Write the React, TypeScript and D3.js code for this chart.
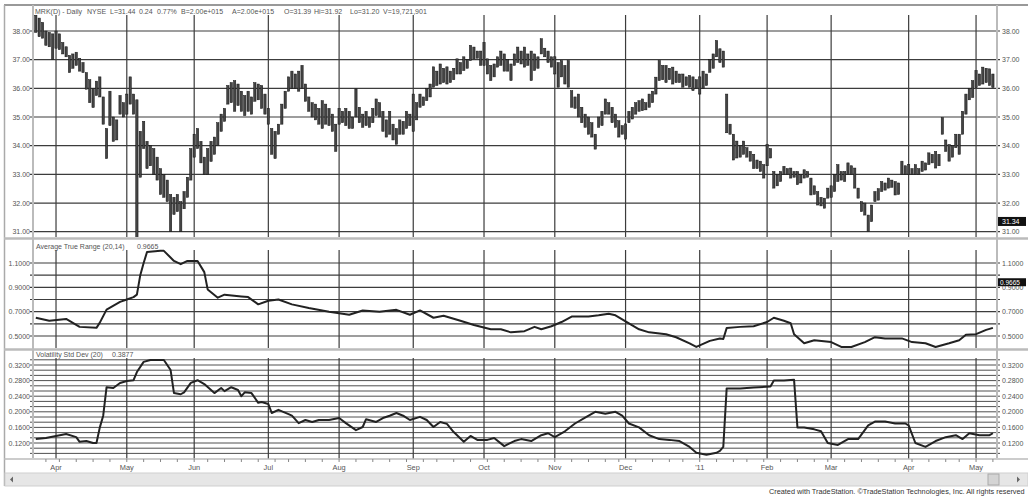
import React from "react";
import * as d3 from "d3";

const holidays = ["2010-04-02","2010-05-31","2010-07-05","2010-09-06","2010-11-25","2010-12-24","2011-01-17","2011-02-21","2011-04-22"];
const firstDay = [2010, 2, 24];
const lastDay = [2011, 4, 9];

const highs = [
38.55,38.45,38.3,38.0,37.95,37.9,38.0,37.9,37.6,37.45,
37.15,37.2,37.26,37.05,36.9,36.55,36.3,36.0,36.25,36.4,
35.7,34.6,35.9,35.0,34.9,35.75,35.5,35.8,36.4,35.8,
35.6,34.5,34.85,34.15,34.0,33.9,33.6,33.2,33.0,32.8,
32.3,32.2,32.3,32.05,32.4,32.9,33.9,34.4,34.6,34.15,
33.6,33.9,34.15,34.3,34.8,35.1,35.3,36.1,36.2,36.27,
36.15,35.9,35.75,35.9,35.7,36.2,36.15,36.1,35.8,35.3,
34.6,34.5,34.75,35.45,35.9,36.4,36.6,36.5,36.6,36.8,
36.15,35.7,35.5,35.45,35.3,35.57,35.45,35.3,35.1,34.75,
35.3,35.2,35.3,35.2,35.0,35.98,35.34,35.1,35.2,35.0,
35.3,35.63,35.5,35.2,34.9,35.2,34.75,34.6,34.9,34.85,
35.2,35.1,35.8,35.5,35.8,35.7,36.0,36.15,36.75,36.6,
36.85,36.7,36.75,36.6,36.7,37.03,36.9,37.1,37.0,37.5,
37.44,37.3,37.3,37.6,37.03,36.8,36.85,37.1,37.3,37.2,
37.0,36.85,37.2,37.44,37.3,37.44,37.2,37.3,37.2,37.1,
37.73,37.4,37.3,37.1,37.1,36.9,36.97,36.8,36.97,35.92,
35.7,35.8,35.34,35.1,35.0,34.8,34.4,35.0,35.2,35.63,
35.5,35.34,35.1,34.87,34.7,34.76,35.2,35.34,35.5,35.57,
35.63,35.5,35.8,35.9,36.39,36.97,36.8,36.8,36.7,36.74,
36.6,36.5,36.5,36.4,36.45,36.4,36.3,36.4,36.6,36.5,
37.0,37.2,37.67,37.38,37.3,35.8,34.75,34.4,34.16,34.0,
34.16,33.93,33.8,33.7,33.5,33.46,33.34,34.04,33.9,33.1,
33.0,33.1,33.28,33.2,33.22,33.1,33.1,33.0,33.16,33.1,
32.87,32.6,32.4,32.2,32.17,32.52,32.6,32.99,33.34,33.1,
33.1,33.4,33.3,33.22,32.52,32.05,32.0,31.58,31.93,32.4,
32.5,32.75,32.7,32.87,32.8,32.75,32.7,33.46,33.3,33.34,
33.2,33.34,33.2,33.46,33.4,33.75,33.7,33.8,33.7,34.98,
34.2,34.04,34.0,34.4,34.4,35.2,35.8,36.0,36.27,36.62,
36.5,36.74,36.7,36.68,36.5
];

const lows = [
37.95,37.8,37.75,37.5,37.45,37.0,37.4,37.35,37.2,37.1,
36.55,36.7,36.8,36.6,36.55,35.97,35.5,35.33,35.75,35.7,
34.75,33.55,34.7,34.15,34.2,35.1,35.0,35.1,35.45,35.1,
29.5,32.9,33.9,33.2,33.3,33.0,32.8,32.3,32.2,32.05,
31.0,31.6,31.7,31.0,31.8,32.2,32.8,33.6,33.9,33.4,
33.0,33.0,33.45,33.7,34.0,34.5,34.85,35.45,35.5,35.2,
35.4,35.2,35.05,35.2,35.1,35.55,35.6,35.3,35.1,34.75,
33.7,33.55,34.4,34.75,35.3,35.9,36.0,36.0,35.9,36.0,
35.55,35.2,35.0,34.9,34.75,34.6,34.75,34.7,34.5,33.8,
34.75,34.8,34.7,34.6,34.6,35.0,34.8,34.64,34.7,34.64,
34.8,35.05,35.0,34.5,34.3,34.4,34.2,34.05,34.4,34.4,
34.6,34.7,34.5,34.9,35.34,35.4,35.57,35.7,36.04,36.1,
36.15,36.2,36.15,36.2,36.3,36.5,36.5,36.62,36.7,36.97,
37.03,37.05,36.8,36.8,36.5,36.27,36.4,36.74,36.8,36.6,
36.6,36.27,36.8,36.9,36.85,36.74,36.8,36.27,36.62,36.7,
37.2,37.1,36.9,36.74,36.5,36.04,36.4,36.15,36.04,35.34,
35.3,35.0,34.8,34.64,34.4,34.3,33.88,34.64,34.7,35.1,
35.1,34.8,34.64,34.3,34.4,34.23,34.8,34.93,35.1,35.2,
35.22,35.25,35.34,35.5,35.8,36.27,36.3,36.2,36.3,36.15,
36.2,36.2,36.04,36.1,36.04,35.92,36.0,35.8,36.0,36.1,
36.56,36.7,37.1,36.9,36.74,34.45,34.4,33.5,33.57,33.6,
33.7,33.6,33.46,33.2,33.2,33.1,32.87,33.3,33.57,32.52,
32.6,32.75,32.99,33.0,32.87,32.9,32.64,32.7,32.87,32.9,
32.28,32.3,31.93,31.9,31.82,32.17,32.2,32.4,32.75,32.8,
32.75,32.99,33.0,32.52,32.17,31.7,31.58,31.0,31.35,32.05,
32.1,32.4,32.45,32.52,32.55,32.28,32.3,32.99,33.0,32.99,
33.0,32.99,33.0,33.1,33.15,33.34,33.4,33.22,33.3,34.4,
33.8,33.46,33.6,33.93,33.7,34.4,35.1,35.6,35.68,36.03,
36.1,36.15,36.2,36.1,36.03
];

const atrIdx = [0,4,9,13,18,19,21,25,27,29,30,31,32,33,37,38,41,43,45,48,50,51,54,56,61,63,66,69,72,76,81,87,93,97,102,107,111,114,118,121,126,130,135,138,141,145,148,150,153,156,159,162,164,167,170,172,175,179,182,187,190,194,196,200,203,204,205,209,213,217,219,222,224,225,228,231,236,239,242,246,249,252,257,260,264,267,271,274,276,279,282,284];
const atrVal = [0.65,0.625,0.64,0.575,0.567,0.61,0.717,0.78,0.8,0.82,0.84,1.0,1.1,1.19,1.2,1.2,1.117,1.09,1.117,1.117,1.025,0.883,0.815,0.84,0.825,0.82,0.76,0.79,0.8,0.76,0.73,0.7,0.675,0.71,0.70,0.715,0.675,0.71,0.65,0.667,0.625,0.59,0.555,0.555,0.53,0.54,0.575,0.555,0.58,0.615,0.66,0.66,0.66,0.67,0.683,0.67,0.62,0.555,0.53,0.515,0.49,0.44,0.41,0.46,0.48,0.475,0.565,0.575,0.58,0.615,0.65,0.625,0.605,0.515,0.44,0.465,0.45,0.41,0.41,0.45,0.49,0.48,0.48,0.45,0.44,0.41,0.44,0.465,0.51,0.515,0.55,0.567];

const volIdx = [0,3,6,9,12,13,15,17,18,19,20,21,23,25,27,29,30,32,34,38,40,41,43,44,46,48,50,53,55,56,58,60,61,62,64,66,67,69,70,72,75,76,78,80,82,84,87,90,92,95,97,98,101,103,105,107,109,111,114,116,118,120,122,124,127,129,131,134,136,139,142,144,147,150,152,154,157,160,163,166,169,172,174,176,179,182,185,188,191,194,196,199,202,203,204,205,209,213,218,219,222,225,226,228,231,233,235,238,241,244,247,249,252,255,258,259,261,264,267,270,273,275,277,280,283,284];
const volVal = [0.130,0.133,0.138,0.143,0.135,0.123,0.125,0.12,0.12,0.16,0.19,0.263,0.261,0.274,0.279,0.281,0.302,0.328,0.333,0.333,0.307,0.248,0.245,0.25,0.274,0.281,0.271,0.248,0.261,0.253,0.263,0.256,0.24,0.25,0.248,0.223,0.225,0.22,0.197,0.205,0.194,0.19,0.171,0.179,0.174,0.179,0.179,0.184,0.171,0.153,0.161,0.181,0.174,0.184,0.19,0.197,0.19,0.179,0.187,0.179,0.161,0.174,0.169,0.148,0.123,0.138,0.128,0.128,0.133,0.112,0.125,0.13,0.125,0.14,0.145,0.135,0.15,0.17,0.185,0.2,0.195,0.2,0.19,0.17,0.16,0.14,0.13,0.128,0.125,0.11,0.095,0.09,0.095,0.1,0.11,0.26,0.26,0.262,0.265,0.28,0.28,0.282,0.16,0.16,0.155,0.15,0.12,0.115,0.13,0.13,0.165,0.175,0.175,0.17,0.17,0.165,0.12,0.11,0.125,0.135,0.14,0.13,0.145,0.14,0.14,0.145];

const priceTicks = [38, 37, 36, 35, 34, 33, 32, 31];
const atrGrid = [1.1, 1.0, 0.9, 0.8, 0.7, 0.6, 0.5];
const atrLabels = [1.1, 0.9, 0.7, 0.5];
const volLabels = [0.32, 0.28, 0.24, 0.2, 0.16, 0.12];
const volGridSteps = d3.range(-2, 17);
const monthNames = ["Apr","May","Jun","Jul","Aug","Sep","Oct","Nov","Dec","'11","Feb","Mar","Apr","May"];

const titleParts: [string, number][] = [
  ["MRK(D) - Daily", 35], ["NYSE", 87], ["L=31.44", 110], ["0.24", 139], ["0.77%", 157],
  ["B=2.00e+015", 181], ["A=2.00e+015", 232], ["O=31.39", 284], ["Hi=31.92", 314],
  ["Lo=31.20", 350], ["V=19,721,901", 383],
];
const lastPrice = 31.34;
const atrTitle = "Average True Range (20,14)";
const atrLast = 0.9665;
const volTitle = "Volatility Std Dev (20)";
const volLast = "0.3877";
const footer = "Created with TradeStation. ©TradeStation Technologies, Inc. All rights reserved";

function buildDays(): Date[] {
  const fmt = d3.timeFormat("%Y-%m-%d");
  const hol = new Set(holidays);
  const out: Date[] = [];
  const d = new Date(firstDay[0], firstDay[1], firstDay[2]);
  const end = new Date(lastDay[0], lastDay[1], lastDay[2]);
  while (d <= end) {
    const dow = d.getDay();
    if (dow !== 0 && dow !== 6 && !hol.has(fmt(d))) out.push(new Date(d));
    d.setDate(d.getDate() + 1);
  }
  return out;
}

const FONT = "'Liberation Sans', Arial, Helvetica, sans-serif";
const TXT = "#555";
const GRID = "#3c3c3c";
const FS = 7;

export default function App() {
  const days = buildDays();
  const N = highs.length;
  const plotL = 33, plotR = 997;
  const x = d3.scaleLinear().domain([0, N - 1]).range([35.8, 992.9]);
  const yP = d3.scaleLinear().domain([31, 38]).range([231.7, 31]);
  const yA = d3.scaleLinear().domain([0.5, 1.1]).range([336, 263]);
  const yV = d3.scaleLinear().domain([0.12, 0.32]).range([443, 365]);

  const monthIdx: number[] = [];
  const weekIdx: number[] = [];
  days.forEach((d, i) => {
    if (i === 0) return;
    if (d.getMonth() !== days[i - 1].getMonth()) monthIdx.push(i);
    if (d.getDay() < days[i - 1].getDay()) weekIdx.push(i);
  });

  const atrLine = d3.line<number>().x((i) => x(atrIdx[i])).y((i) => yA(atrVal[i]))(d3.range(atrIdx.length)) || "";
  const volLine = d3.line<number>().x((i) => x(volIdx[i])).y((i) => yV(volVal[i]))(d3.range(volIdx.length)) || "";
  const volGrid = volGridSteps.map((k) => 0.12 + (k * 0.04) / 3);

  const panels = { p: [6, 237], a: [240, 348], v: [351, 458] };

  return (
    <div style={{ position: "fixed", left: 0, top: 0 }}>
      <svg width={1028} height={496} style={{ display: "block", background: "#fff" }} fontFamily={FONT}>
        <defs>
          <clipPath id="cp"><rect x={plotL} y={15} width={plotR - plotL} height={panels.p[1] - 15} /></clipPath>
          <clipPath id="ca"><rect x={plotL} y={panels.a[0]} width={plotR - plotL} height={panels.a[1] - panels.a[0]} /></clipPath>
          <clipPath id="cv"><rect x={plotL} y={panels.v[0]} width={plotR - plotL} height={panels.v[1] - panels.v[0]} /></clipPath>
        </defs>
        <rect x={0} y={0} width={1028} height={496} fill="#fff" />

        {monthIdx.map((i) => (
          <g key={"m" + i}>
            <line x1={x(i)} x2={x(i)} y1={15} y2={panels.p[1]} stroke={GRID} strokeWidth={1.2} />
            <line x1={x(i)} x2={x(i)} y1={250} y2={panels.a[1]} stroke={GRID} strokeWidth={1.2} />
            <line x1={x(i)} x2={x(i)} y1={358} y2={panels.v[1] + 1} stroke={GRID} strokeWidth={1.2} />
          </g>
        ))}

        {priceTicks.map((v) => (
          <line key={"pg" + v} x1={plotL - 3} x2={plotR + 3} y1={yP(v)} y2={yP(v)} stroke={GRID} strokeWidth={1.2} />
        ))}
        {atrGrid.map((v) => (
          <line key={"ag" + v} x1={plotL - 3} x2={plotR + 3} y1={yA(v)} y2={yA(v)} stroke={GRID} strokeWidth={1.1} />
        ))}
        {volGrid.map((v, k) => (
          <line key={"vg" + k} x1={plotL - 3} x2={plotR + 3} y1={yV(v)} y2={yV(v)} stroke={GRID} strokeWidth={0.9} />
        ))}

        <g clipPath="url(#cp)">
          {highs.map((h, i) => (
            <rect key={i} x={x(i) - 1.15} width={2.3} y={yP(h)} height={Math.max(1, yP(lows[i]) - yP(h))}
              fill="#444" stroke="#111" strokeWidth={0.5} />
          ))}
        </g>

        <g clipPath="url(#ca)">
          <path d={atrLine} fill="none" stroke="#222" strokeWidth={2} strokeLinejoin="round" />
        </g>
        <g clipPath="url(#cv)">
          <path d={volLine} fill="none" stroke="#222" strokeWidth={2} strokeLinejoin="round" />
        </g>

        <line x1={4} x2={1028} y1={5} y2={5} stroke="#999" strokeWidth={2} />
        <line x1={4.5} x2={4.5} y1={5} y2={486} stroke="#aaa" strokeWidth={1.5} />
        <line x1={plotL} x2={plotL} y1={5} y2={panels.v[1]} stroke="#bbb" strokeWidth={2} />
        <line x1={plotR} x2={plotR} y1={5} y2={panels.v[1]} stroke="#bbb" strokeWidth={2} />
        <line x1={4} x2={1028} y1={238.5} y2={238.5} stroke="#bbb" strokeWidth={2.5} />
        <line x1={4} x2={1028} y1={349.5} y2={349.5} stroke="#bbb" strokeWidth={2.5} />
        <line x1={4} x2={1028} y1={panels.v[1] + 1} y2={panels.v[1] + 1} stroke="#bbb" strokeWidth={1.5} />

        {titleParts.map(([t, px]) => (
          <text key={t + px} x={px} y={13.5} fontSize={FS} fill={TXT}>{t}</text>
        ))}
        <text fontSize={FS} fill={TXT} x={36} y={249}>{atrTitle}</text>
        <text fontSize={FS} fill={TXT} x={137} y={249}>{atrLast.toFixed(4)}</text>
        <text fontSize={FS} fill={TXT} x={36} y={356.5}>{volTitle}</text>
        <text fontSize={FS} fill={TXT} x={112} y={356.5}>{volLast}</text>

        {priceTicks.map((v) => (
          <g key={"pl" + v} fontSize={FS} fill={TXT}>
            <text x={30} y={yP(v) + 2.5} textAnchor="end">{v.toFixed(2)}</text>
            <text x={1002} y={yP(v) + 2.5}>{v.toFixed(2)}</text>
          </g>
        ))}
        {atrLabels.map((v) => (
          <g key={"al" + v} fontSize={FS} fill={TXT}>
            <text x={30} y={yA(v) + 2.5} textAnchor="end">{v.toFixed(4)}</text>
            <text x={1002} y={yA(v) + 2.5}>{v.toFixed(4)}</text>
          </g>
        ))}
        {volLabels.map((v) => (
          <g key={"vl" + v} fontSize={FS} fill={TXT}>
            <text x={30} y={yV(v) + 2.5} textAnchor="end">{v.toFixed(4)}</text>
            <text x={1002} y={yV(v) + 2.5}>{v.toFixed(4)}</text>
          </g>
        ))}

        <rect x={998} y={yP(lastPrice) - 5} width={28} height={9} fill="#111" />
        <text x={1002} y={yP(lastPrice) + 2.3} fontSize={FS} fill="#fff">{lastPrice.toFixed(2)}</text>
        <rect x={998} y={yA(atrLast) - 1} width={28} height={8} fill="#111" />
        <text x={1000} y={yA(atrLast) + 5.5} fontSize={6.5} fill="#fff">{atrLast.toFixed(4)}</text>

        {weekIdx.map((i) => (
          <line key={"w" + i} x1={x(i)} x2={x(i)} y1={panels.v[1] + 1} y2={panels.v[1] + 4} stroke="#888" strokeWidth={1} />
        ))}
        {monthIdx.map((i, k) => (
          <text key={"ml" + i} x={x(i)} y={470} fontSize={7.4} fill={TXT} textAnchor="middle">{monthNames[k]}</text>
        ))}

        <rect x={5} y={473} width={1023} height={13} fill="#e6e6e6" stroke="#cfcfcf" strokeWidth={1} />
        <path d="M13,476.5 L10,479.5 L13,482.5 Z" fill="#666" />
        <rect x={988} y={474} width={11} height={11} fill="#d4d4d4" stroke="#aaa" strokeWidth={1} />
        <path d="M1017,476.5 L1020,479.5 L1017,482.5 Z" fill="#666" />

        <text x={769} y={494} fontSize={7.3} fill="#333">{footer}</text>
      </svg>
    </div>
  );
}
